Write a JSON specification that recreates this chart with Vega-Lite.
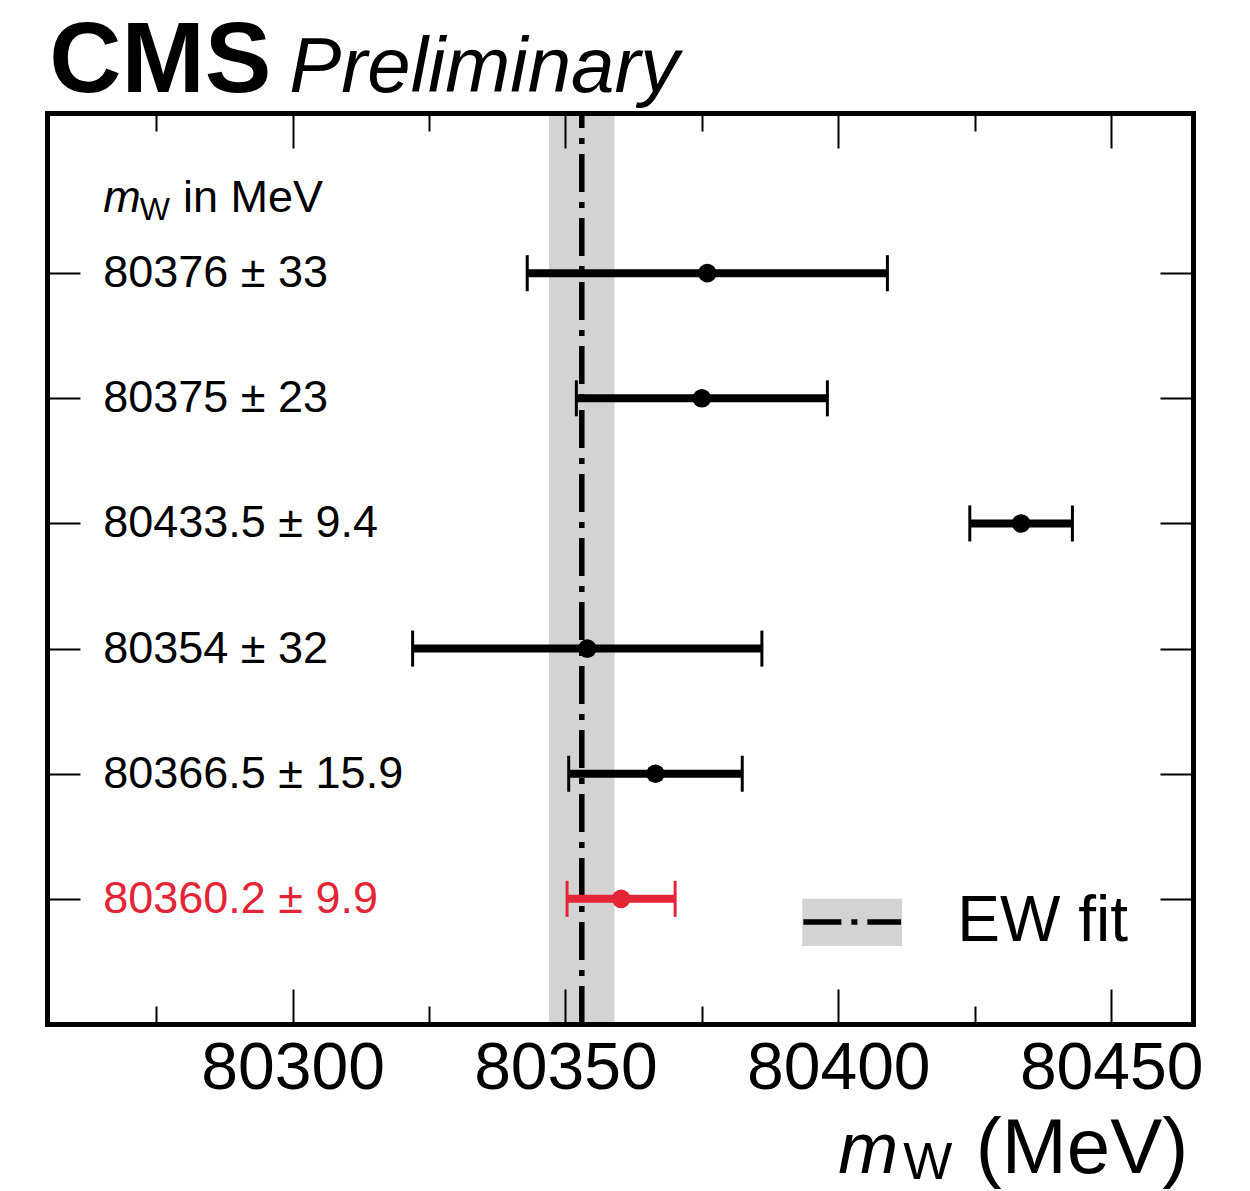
{
  "$schema": "https://vega.github.io/schema/vega-lite/v6.json",
  "width": 1146,
  "height": 911,
  "autosize": {"type": "none"},
  "padding": {"left": 47, "top": 113, "right": 57, "bottom": 167},
  "background": "white",
  "config": {
    "view": {"stroke": null},
    "font": "Liberation Sans",
    "text": {"font": "Liberation Sans"}
  },
  "datasets": {
    "meas": [
      {"label": "80376 ± 33", "mw": 80376, "lo": 80343, "hi": 80409, "row": 6, "group": "other"},
      {"label": "80375 ± 23", "mw": 80375, "lo": 80352, "hi": 80398, "row": 5, "group": "other"},
      {"label": "80433.5 ± 9.4", "mw": 80433.5, "lo": 80424.1, "hi": 80442.9, "row": 4, "group": "other"},
      {"label": "80354 ± 32", "mw": 80354, "lo": 80322, "hi": 80386, "row": 3, "group": "other"},
      {"label": "80366.5 ± 15.9", "mw": 80366.5, "lo": 80350.6, "hi": 80382.4, "row": 2, "group": "other"},
      {"label": "80360.2 ± 9.9", "mw": 80360.2, "lo": 80350.3, "hi": 80370.1, "row": 1, "group": "CMS"}
    ],
    "ew": [{"name": "EW fit", "mw": 80353, "lo": 80347, "hi": 80359}]
  },
  "resolve": {"axis": {"x": "independent", "y": "independent"}},
  "layer": [
    {
      "data": {"name": "ew"},
      "mark": {"type": "rect", "color": "#d3d3d3"},
      "encoding": {
        "x": {"field": "lo", "type": "quantitative", "scale": {"domain": [80255, 80465], "nice": false, "zero": false}, "axis": null},
        "x2": {"field": "hi"}
      }
    },
    {
      "data": {"name": "ew"},
      "mark": {"type": "rule", "color": "black", "strokeWidth": 5.5, "strokeDash": [38, 10, 6, 10]},
      "encoding": {
        "x": {"field": "mw", "type": "quantitative", "scale": {"domain": [80255, 80465], "nice": false, "zero": false}, "axis": null},
        "y": {"datum": 0, "type": "quantitative", "scale": {"domain": [0, 7.28], "nice": false, "zero": false}, "axis": null},
        "y2": {"datum": 7.28}
      }
    },
    {
      "data": {"name": "meas"},
      "mark": {"type": "rule", "strokeWidth": 8},
      "encoding": {
        "x": {"field": "lo", "type": "quantitative", "scale": {"domain": [80255, 80465], "nice": false, "zero": false},
          "axis": {"orient": "bottom", "title": null, "grid": false, "zindex": 1,
            "domain": true, "domainColor": "black", "domainWidth": 5, "domainCap": "square",
            "values": [80275, 80300, 80325, 80350, 80375, 80400, 80425, 80450],
            "tickSize": {"condition": {"test": "datum.value % 50 === 0", "value": -35}, "value": -18},
            "tickWidth": 2, "tickColor": "black",
            "labelExpr": "datum.value % 50 === 0 ? datum.value : ''",
            "labelFontSize": 66, "labelColor": "black", "labelFont": "Liberation Sans", "labelPadding": 47, "labelLimit": 0, "labelFlush": false, "labelOverlap": false}},
        "x2": {"field": "hi"},
        "y": {"field": "row", "type": "quantitative", "scale": {"domain": [0, 7.28], "nice": false, "zero": false},
          "axis": {"orient": "left", "title": null, "grid": false, "zindex": 1,
            "domain": true, "domainColor": "black", "domainWidth": 5, "domainCap": "square",
            "values": [1, 2, 3, 4, 5, 6],
            "tickSize": -33, "tickWidth": 2, "tickColor": "black", "labels": false}},
        "color": {"field": "group", "type": "nominal", "scale": {"domain": ["other", "CMS"], "range": ["black", "#e42536"]}, "legend": null}
      }
    },
    {
      "data": {"name": "meas"},
      "mark": {"type": "tick", "orient": "vertical", "size": 36, "thickness": 3, "opacity": 1},
      "encoding": {
        "x": {"field": "lo", "type": "quantitative", "scale": {"domain": [80255, 80465], "nice": false, "zero": false},
          "axis": {"orient": "top", "title": null, "grid": false, "zindex": 1,
            "domain": true, "domainColor": "black", "domainWidth": 5, "domainCap": "square",
            "values": [80275, 80300, 80325, 80350, 80375, 80400, 80425, 80450],
            "tickSize": {"condition": {"test": "datum.value % 50 === 0", "value": -35}, "value": -18},
            "tickWidth": 2, "tickColor": "black", "labels": false}},
        "y": {"field": "row", "type": "quantitative", "scale": {"domain": [0, 7.28], "nice": false, "zero": false},
          "axis": {"orient": "right", "title": null, "grid": false, "zindex": 1,
            "domain": true, "domainColor": "black", "domainWidth": 5, "domainCap": "square",
            "values": [1, 2, 3, 4, 5, 6],
            "tickSize": -33, "tickWidth": 2, "tickColor": "black", "labels": false}},
        "color": {"field": "group", "type": "nominal", "legend": null}
      }
    },
    {
      "data": {"name": "meas"},
      "mark": {"type": "tick", "orient": "vertical", "size": 36, "thickness": 3, "opacity": 1},
      "encoding": {
        "x": {"field": "hi", "type": "quantitative", "scale": {"domain": [80255, 80465], "nice": false, "zero": false}, "axis": null},
        "y": {"field": "row", "type": "quantitative", "scale": {"domain": [0, 7.28], "nice": false, "zero": false}, "axis": null},
        "color": {"field": "group", "type": "nominal", "legend": null}
      }
    },
    {
      "data": {"name": "meas"},
      "mark": {"type": "circle", "size": 346, "opacity": 1},
      "encoding": {
        "x": {"field": "mw", "type": "quantitative", "scale": {"domain": [80255, 80465], "nice": false, "zero": false}, "axis": null},
        "y": {"field": "row", "type": "quantitative", "scale": {"domain": [0, 7.28], "nice": false, "zero": false}, "axis": null},
        "color": {"field": "group", "type": "nominal", "legend": null}
      }
    },
    {
      "data": {"name": "meas"},
      "mark": {"type": "text", "fontSize": 45, "align": "left", "baseline": "middle"},
      "encoding": {
        "x": {"datum": 80265.3, "type": "quantitative", "scale": {"domain": [80255, 80465], "nice": false, "zero": false}, "axis": null},
        "y": {"field": "row", "type": "quantitative", "scale": {"domain": [0, 7.28], "nice": false, "zero": false}, "axis": null},
        "text": {"field": "label"},
        "color": {"field": "group", "type": "nominal", "legend": null}
      }
    },
    {
      "data": {"name": "ew"},
      "mark": {"type": "rect", "color": "#d3d3d3"},
      "encoding": {
        "x": {"datum": 80393.4, "type": "quantitative", "scale": {"domain": [80255, 80465], "nice": false, "zero": false}, "axis": null},
        "x2": {"datum": 80411.7},
        "y": {"datum": 1.0, "type": "quantitative", "scale": {"domain": [0, 7.28], "nice": false, "zero": false}, "axis": null},
        "y2": {"datum": 0.624}
      }
    },
    {
      "data": {"name": "ew"},
      "mark": {"type": "rule", "color": "black", "strokeWidth": 5.5, "strokeDash": [38, 10, 6, 10]},
      "encoding": {
        "x": {"datum": 80393.6, "type": "quantitative", "scale": {"domain": [80255, 80465], "nice": false, "zero": false}, "axis": null},
        "x2": {"datum": 80411.5},
        "y": {"datum": 0.816, "type": "quantitative", "scale": {"domain": [0, 7.28], "nice": false, "zero": false}, "axis": null}
      }
    },
    {
      "data": {"name": "ew"},
      "mark": {"type": "text", "fontSize": 64, "align": "left", "baseline": "middle", "color": "black"},
      "encoding": {
        "x": {"datum": 80421.8, "type": "quantitative", "scale": {"domain": [80255, 80465], "nice": false, "zero": false}, "axis": null},
        "y": {"datum": 0.816, "type": "quantitative", "scale": {"domain": [0, 7.28], "nice": false, "zero": false}, "axis": null},
        "text": {"field": "name"}
      }
    },
    {
      "data": {"values": [{}]},
      "mark": {"type": "text", "fontSize": 100, "fontWeight": "bold", "align": "left", "baseline": "alphabetic", "color": "black"},
      "encoding": {
        "x": {"datum": 80255.4, "type": "quantitative", "scale": {"domain": [80255, 80465], "nice": false, "zero": false}, "axis": null},
        "y": {"datum": 7.448, "type": "quantitative", "scale": {"domain": [0, 7.28], "nice": false, "zero": false}, "axis": null},
        "text": {"value": "CMS"}
      }
    },
    {
      "data": {"values": [{}]},
      "mark": {"type": "text", "fontSize": 78, "fontStyle": "italic", "align": "left", "baseline": "alphabetic", "color": "black"},
      "encoding": {
        "x": {"datum": 80299.4, "type": "quantitative", "scale": {"domain": [80255, 80465], "nice": false, "zero": false}, "axis": null},
        "y": {"datum": 7.448, "type": "quantitative", "scale": {"domain": [0, 7.28], "nice": false, "zero": false}, "axis": null},
        "text": {"value": "Preliminary"}
      }
    },
    {
      "data": {"values": [{}]},
      "mark": {"type": "text", "fontSize": 45, "fontStyle": "italic", "align": "left", "baseline": "alphabetic", "color": "black"},
      "encoding": {
        "x": {"datum": 80265.3, "type": "quantitative", "scale": {"domain": [80255, 80465], "nice": false, "zero": false}, "axis": null},
        "y": {"datum": 6.488, "type": "quantitative", "scale": {"domain": [0, 7.28], "nice": false, "zero": false}, "axis": null},
        "text": {"value": "m"}
      }
    },
    {
      "data": {"values": [{}]},
      "mark": {"type": "text", "fontSize": 32, "align": "left", "baseline": "alphabetic", "color": "black"},
      "encoding": {
        "x": {"datum": 80272.0, "type": "quantitative", "scale": {"domain": [80255, 80465], "nice": false, "zero": false}, "axis": null},
        "y": {"datum": 6.424, "type": "quantitative", "scale": {"domain": [0, 7.28], "nice": false, "zero": false}, "axis": null},
        "text": {"value": "W"}
      }
    },
    {
      "data": {"values": [{}]},
      "mark": {"type": "text", "fontSize": 45, "align": "left", "baseline": "alphabetic", "color": "black"},
      "encoding": {
        "x": {"datum": 80279.9, "type": "quantitative", "scale": {"domain": [80255, 80465], "nice": false, "zero": false}, "axis": null},
        "y": {"datum": 6.488, "type": "quantitative", "scale": {"domain": [0, 7.28], "nice": false, "zero": false}, "axis": null},
        "text": {"value": "in MeV"}
      }
    },
    {
      "data": {"values": [{}]},
      "mark": {"type": "text", "fontSize": 72, "fontStyle": "italic", "align": "left", "baseline": "alphabetic", "color": "black"},
      "encoding": {
        "x": {"datum": 80400.0, "type": "quantitative", "scale": {"domain": [80255, 80465], "nice": false, "zero": false}, "axis": null},
        "y": {"datum": -1.192, "type": "quantitative", "scale": {"domain": [0, 7.28], "nice": false, "zero": false}, "axis": null},
        "text": {"value": "m"}
      }
    },
    {
      "data": {"values": [{}]},
      "mark": {"type": "text", "fontSize": 52, "align": "left", "baseline": "alphabetic", "color": "black"},
      "encoding": {
        "x": {"datum": 80411.9, "type": "quantitative", "scale": {"domain": [80255, 80465], "nice": false, "zero": false}, "axis": null},
        "y": {"datum": -1.238, "type": "quantitative", "scale": {"domain": [0, 7.28], "nice": false, "zero": false}, "axis": null},
        "text": {"value": "W"}
      }
    },
    {
      "data": {"values": [{}]},
      "mark": {"type": "text", "fontSize": 78, "align": "left", "baseline": "alphabetic", "color": "black"},
      "encoding": {
        "x": {"datum": 80425.2, "type": "quantitative", "scale": {"domain": [80255, 80465], "nice": false, "zero": false}, "axis": null},
        "y": {"datum": -1.192, "type": "quantitative", "scale": {"domain": [0, 7.28], "nice": false, "zero": false}, "axis": null},
        "text": {"value": "(MeV)"}
      }
    }
  ]
}
